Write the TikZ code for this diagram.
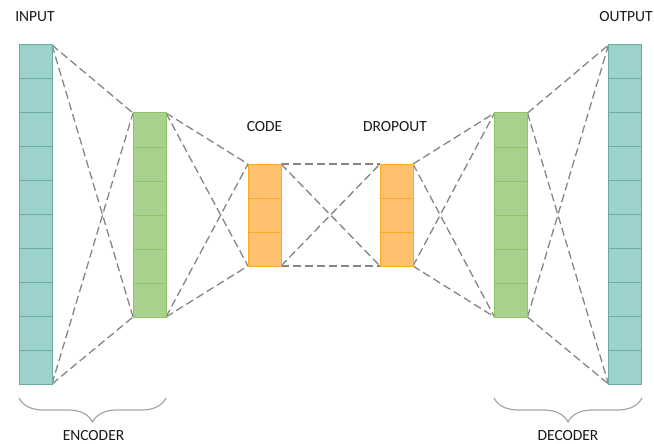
\documentclass[tikz,border=0pt]{standalone}
\usepackage{fontspec}
\setmainfont{Carlito}
\usetikzlibrary{backgrounds,decorations.pathreplacing}
\definecolor{tealfill}{HTML}{9DD1CC}
\definecolor{tealdraw}{HTML}{6AABA4}
\definecolor{greenfill}{HTML}{A9D18E}
\definecolor{greendraw}{HTML}{8CC665}
\definecolor{orangefill}{HTML}{FFC16F}
\definecolor{orangedraw}{HTML}{FFA623}
\definecolor{linkgray}{HTML}{858585}
\definecolor{bracegray}{HTML}{A6A6A6}
\tikzset{
  cellbox/.style={rectangle, inner sep=0pt, outer sep=0pt, minimum width=33pt, line width=1pt},
  tealcell/.style={cellbox, fill=tealfill, draw=tealdraw, minimum height=33.9pt},
  greencell/.style={cellbox, fill=greenfill, draw=greendraw, minimum height=34pt},
  orangecell/.style={cellbox, fill=orangefill, draw=orangedraw, minimum height=34pt},
  link/.style={draw=linkgray, line width=1.3pt, dash pattern=on 8pt off 4pt},
  label/.style={font=\fontsize{15.5}{18}\selectfont, text=black!90, inner sep=0pt},
  bracket/.style={draw=bracegray, line width=1.2pt, decorate, decoration={brace, mirror, amplitude=24pt}}
}
\begin{document}
\begin{tikzpicture}[x=1pt, y=-1pt]
\useasboundingbox (0,0) rectangle (654,444);
% columns
\foreach \i in {1,...,10} {
  \node[tealcell] (in\i) at (35.5, {45+33.9*(\i-0.5)}) {};
  \node[tealcell] (out\i) at (625, {45+33.9*(\i-0.5)}) {};
}
\foreach \i in {1,...,6} {
  \node[greencell] (enc\i) at (149.5, {113+34*(\i-0.5)}) {};
  \node[greencell] (dec\i) at (511, {113+34*(\i-0.5)}) {};
}
\foreach \i in {1,...,3} {
  \node[orangecell] (code\i) at (264.5, {164+34*(\i-0.5)}) {};
  \node[orangecell] (drop\i) at (396.5, {164+34*(\i-0.5)}) {};
}
% connectors
\begin{scope}[on background layer]
\draw[link] (in1.north east) -- (enc1.north west);
\draw[link] (in1.north east) -- (enc6.south west);
\draw[link] (in10.south east) -- (enc1.north west);
\draw[link] (in10.south east) -- (enc6.south west);
\draw[link] (enc1.north east) -- (code1.north west);
\draw[link] (enc1.north east) -- (code3.south west);
\draw[link] (enc6.south east) -- (code1.north west);
\draw[link] (enc6.south east) -- (code3.south west);
\draw[link] (code1.north east) -- (drop1.north west);
\draw[link] (code1.north east) -- (drop3.south west);
\draw[link] (code3.south east) -- (drop1.north west);
\draw[link] (code3.south east) -- (drop3.south west);
\draw[link] (drop1.north east) -- (dec1.north west);
\draw[link] (drop1.north east) -- (dec6.south west);
\draw[link] (drop3.south east) -- (dec1.north west);
\draw[link] (drop3.south east) -- (dec6.south west);
\draw[link] (dec1.north east) -- (out1.north west);
\draw[link] (dec1.north east) -- (out10.south west);
\draw[link] (dec6.south east) -- (out1.north west);
\draw[link] (dec6.south east) -- (out10.south west);
\end{scope}
% labels
\node[label] (lin) at (35,17) {INPUT};
\node[label] (lout) at (626,17) {OUTPUT};
\node[label] (lcode) at (264.5,127) {CODE};
\node[label] (ldrop) at (395,127) {DROPOUT};
\node[label] (lenc) at (93.5,436) {ENCODER};
\node[label] (ldec) at (568,436) {DECODER};
% braces
\coordinate (bl1) at (19,398);
\coordinate (br1) at (166,398);
\coordinate (bl2) at (494,398);
\coordinate (br2) at (642,398);
\draw[bracket] (bl1) -- (br1);
\draw[bracket] (bl2) -- (br2);
\end{tikzpicture}
\end{document}
